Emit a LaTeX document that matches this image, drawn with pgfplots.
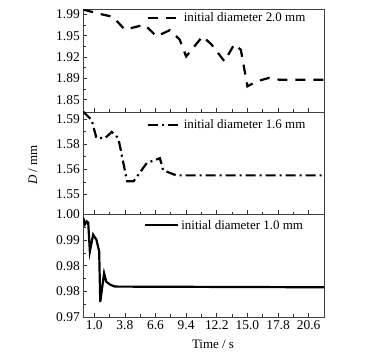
\documentclass[border=0pt]{standalone}
\usepackage{fontspec}
\setmainfont{Liberation Serif}
\usepackage{pgfplots}
\pgfplotsset{compat=1.18}
\begin{document}
\begin{tikzpicture}
\path[use as bounding box] (0bp,0bp) rectangle (380bp,357bp);
\pgfplotsset{
  panel/.style={
    scale only axis, width=240.7bp, height=102.5bp,
    xmin=0, xmax=22,
    axis line style={black!75, line width=0.8bp},
    tick align=inside, xtick pos=bottom, ytick pos=left,
    major tick length=4bp, minor tick length=2.5bp,
    tick style={black!80, line width=0.7bp},
    xtick={1.0,3.8,6.6,9.4,12.2,15.0,17.8,20.6},
    minor xtick={2.4,5.2,8.0,10.8,13.6,16.4,19.2},
    minor y tick num=1,
    xticklabels={},
    tick label style={font=\fontsize{13.5}{15}\selectfont},
    legend style={draw=none, fill=none, inner xsep=0pt, inner ysep=0pt,
      font=\fontsize{13}{15}\selectfont, anchor=west},
    legend image code/.code={\draw[##1] (0bp,0bp) -- (33bp,0bp);},
    legend cell align=left,
    clip=true,
  }
}
% top panel
\begin{axis}[panel, at={(83.3bp,245bp)}, anchor=south west,
  ymin=1.83, ymax=1.998,
  ytick={1.85,1.885,1.92,1.955,1.99},
  yticklabels={1.85,1.89,1.92,1.95,1.99},
  legend style={at={(0.262,0.915)}}]
\addplot[black, line width=2.2bp, dash pattern=on 10bp off 8bp] coordinates {
(0,1.998)(1.2,1.992)(2.7,1.986)(3.8,1.965)(5.6,1.973)(6.7,1.954)(7.9,1.964)
(8.8,1.949)(9.4,1.921)(10.9,1.954)(11.7,1.941)(12.9,1.913)(13.8,1.941)
(14.4,1.932)(15.0,1.872)(15.8,1.880)(17.0,1.886)(17.9,1.883)(22,1.883)};
\addlegendentry{initial diameter 2.0 mm}
\end{axis}
% middle panel
\begin{axis}[panel, at={(83.3bp,142.5bp)}, anchor=south west,
  ymin=1.5401, ymax=1.5909,
  ytick={1.55,1.5625,1.575,1.5875},
  yticklabels={1.55,1.56,1.58,1.59},
  legend style={at={(0.262,0.874)}}]
\addplot[black, line width=2.2bp, dash pattern=on 10bp off 4bp on 2bp off 4bp] coordinates {
(0,1.591)(0.76,1.587)(1.2,1.578)(2.0,1.578)(2.6,1.581)(3.2,1.578)(4.0,1.5566)
(4.6,1.5566)(5.8,1.5656)(7.0,1.568)(7.3,1.562)(8.5,1.5595)(22,1.5595)};
\addlegendentry{initial diameter 1.6 mm}
\end{axis}
% bottom panel
\begin{axis}[panel, at={(83.3bp,40bp)}, anchor=south west,
  ymin=0.97, ymax=1.0,
  ytick={0.97,0.9775,0.985,0.9925,1.0},
  yticklabels={0.97,0.98,0.98,0.99,1.00},
  xticklabels={1.0,3.8,6.6,9.4,12.2,15.0,17.8,20.6},
  legend style={at={(0.252,0.895)}}]
\addplot[black, line width=2.2bp] coordinates {
(0,0.9990)(0.15,0.9971)(0.3,0.9980)(0.45,0.9976)(0.6,0.9892)(0.9,0.9941)
(1.2,0.9926)(1.45,0.9892)(1.55,0.9744)(1.9,0.9828)(2.1,0.9803)(2.5,0.9794)
(2.9,0.9789)(22,0.9787)};
\addlegendentry{initial diameter 1.0 mm}
\end{axis}
\node[font=\fontsize{13}{15}\selectfont] at (213bp,13bp) {Time / s};
\node[rotate=90, font=\fontsize{13}{15}\selectfont] at (33bp,192bp) {\textit{D} / mm};
\end{tikzpicture}
\end{document}
